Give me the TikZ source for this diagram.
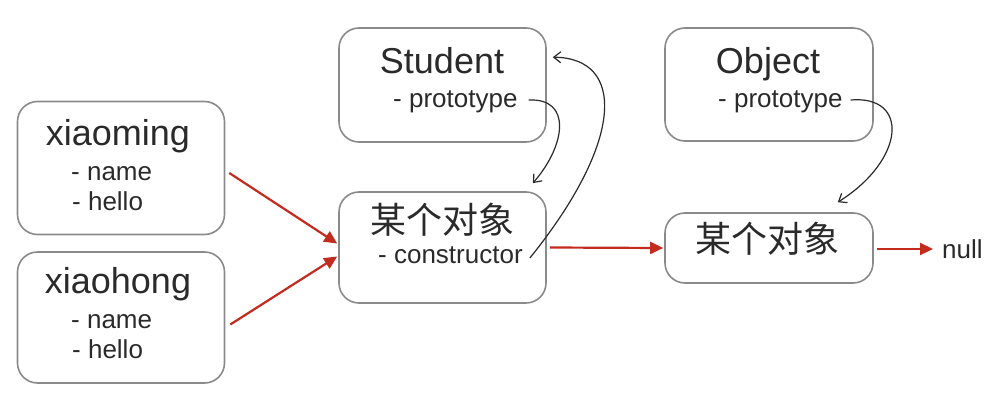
\documentclass[tikz,border=0pt]{standalone}
\usepackage{fontspec}
\setmainfont{Liberation Sans}
\newfontfamily\cjk{Noto Sans CJK SC}
\usetikzlibrary{arrows.meta,calc}
\definecolor{boxgray}{HTML}{8A8A8A}
\definecolor{txt}{HTML}{2A2A2A}
\definecolor{arrred}{HTML}{C42B1F}
\tikzset{
  objbox/.style={draw=boxgray, line width=1.6pt, rounded corners=20pt, rectangle, inner sep=0pt},
  title/.style={anchor=base, text=txt, inner sep=0pt, font=\fontsize{36}{40}\selectfont},
  sub/.style={anchor=base west, text=txt, inner sep=0pt, font=\fontsize{26}{30}\selectfont},
  cjktitle/.style={anchor=center, text=txt, inner sep=0pt, font=\cjk\fontsize{36}{40}\selectfont},
  redarrow/.style={draw=arrred, line width=2.2pt, -{Triangle[length=13pt,width=12pt]}},
  curvearrow/.style={draw=txt, line width=1.2pt, -{Straight Barb[length=7pt,width=11pt,line width=1.2pt]}}
}
\begin{document}
\begin{tikzpicture}[x=1pt,y=-1pt]
\useasboundingbox (0,0) rectangle (1003,401);
% boxes
\node[objbox, minimum width=207pt, minimum height=133pt] (xm) at (121,168) {};
\node[objbox, minimum width=207pt, minimum height=131pt] (xh) at (121,317.5) {};
\node[objbox, minimum width=207pt, minimum height=114pt] (st) at (442.5,85) {};
\node[objbox, minimum width=207pt, minimum height=111pt] (o1) at (442.5,247.5) {};
\node[objbox, minimum width=208pt, minimum height=113pt] (ob) at (769,84.5) {};
\node[objbox, minimum width=208pt, minimum height=70pt] (o2) at (769,248) {};
% texts
\node[title] (xmt) at (118,145) {xiaoming};
\node[sub] (xmn) at (71,180) {- name};
\node[sub] (xmh) at (72,210) {- hello};
\node[title] (xht) at (118,293) {xiaohong};
\node[sub] (xhn) at (71,328) {- name};
\node[sub] (xhh) at (72,358) {- hello};
\node[title] (stt) at (442,74) {Student};
\node[sub] (stp) at (393,107) {- prototype};
\node[cjktitle] (o1t) at (442,220) {某个对象};
\node[sub] (o1c) at (378,263) {- constructor};
\node[title] (obt) at (768,74) {Object};
\node[sub] (obp) at (718,107) {- prototype};
\node[cjktitle] (o2t) at (767,239) {某个对象};
\node[sub] (nl) at (942,258) {null};
% red arrows
\draw[redarrow] ([shift={(4,5)}]xm.east) -- ([shift={(-1,-4)}]o1.west);
\draw[redarrow] ([shift={(5,7)}]xh.east) -- ([shift={(-1,9)}]o1.west);
\draw[redarrow] ([shift={(3,0)}]o1.east) -- ([shift={(-1,0)}]o2.west);
\draw[redarrow] ([shift={(3,1)}]o2.east) -- ([shift={(-9,1)}]nl.west |- o2.east);
% curved arrows
\coordinate (c1s) at ([shift={(11,-7)}]stp.base east);
\coordinate (c1e) at ([shift={(-14,-8)}]o1.north east);
\draw[curvearrow] (c1s) .. controls (572,98) and (566,145) .. (c1e);
\coordinate (c2s) at ([shift={(7,-5)}]o1c.base east);
\coordinate (c2e) at ([shift={(6,30)}]st.north east);
\draw[curvearrow] (c2s) .. controls (625,140) and (625,58) .. (c2e);
\coordinate (c3s) at ([shift={(8,-7)}]obp.base east);
\coordinate (c3e) at ([shift={(-36,-10)}]o2.north east);
\draw[curvearrow] (c3s) .. controls (910,95) and (905,160) .. (c3e);
\end{tikzpicture}
\end{document}
